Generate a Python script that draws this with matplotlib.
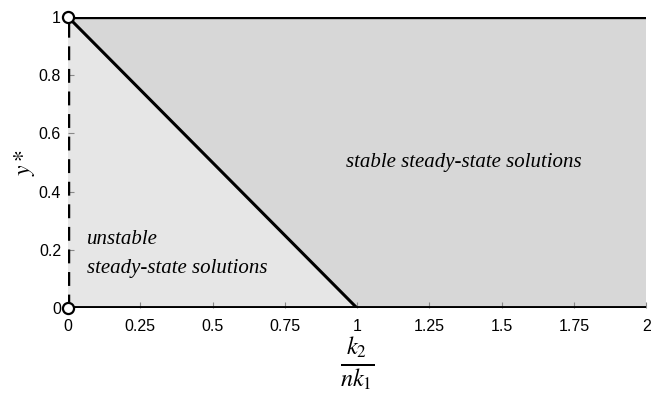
import matplotlib
matplotlib.use('Agg')
import matplotlib.pyplot as plt

plt.rcParams['font.family'] = 'Liberation Sans'
plt.rcParams['mathtext.fontset'] = 'stix'

# boundary between regions: y* = 1 - k2/(n k1)
bx = [0, 1]
by = [1, 0]
xmax = 2
xticks = [0, 0.25, 0.5, 0.75, 1, 1.25, 1.5, 1.75, 2]
xticklabels = ['0', '0.25', '0.5', '0.75', '1', '1.25', '1.5', '1.75', '2']
yticks = [0, 0.2, 0.4, 0.6, 0.8, 1]
yticklabels = ['0', '0.2', '0.4', '0.6', '0.8', '1']

fig = plt.figure(figsize=(6.54, 3.95), dpi=100)
ax = fig.add_axes([0.104, 0.22, 0.884, 0.737])

# shaded regions
ax.fill([0, 0, 1], [0, 1, 0], color='#e6e6e6', lw=0)
ax.fill([0, 1, xmax, xmax], [1, 0, 0, 1], color='#d7d7d7', lw=0)

# lines
ax.plot(bx, by, color='black', lw=2.2)
ax.plot([0, xmax], [1, 1], color='black', lw=2.4)
ax.plot([0, xmax], [0, 0], color='black', lw=2.8)
ax.plot([0, 0], [0, 1], color='black', lw=2.5, ls=(0, (4, 2.5)))
ax.plot([0, 0], [0, 1], 'o', ms=8, mfc='white', mec='black', mew=1.6, zorder=5, clip_on=False)

ax.text(1.37, 0.5, 'stable steady-state solutions', family='Liberation Serif',
        style='italic', fontsize=15, ha='center', va='center')
ax.text(0.065, 0.235, 'unstable', family='Liberation Serif', style='italic',
        fontsize=15, ha='left', va='center')
ax.text(0.065, 0.135, 'steady-state solutions', family='Liberation Serif', style='italic',
        fontsize=15, ha='left', va='center')

ax.set_xlim(0, xmax)
ax.set_ylim(0, 1)
ax.set_xticks(xticks)
ax.set_xticklabels(xticklabels)
ax.set_yticks(yticks)
ax.set_yticklabels(yticklabels)
ax.tick_params(direction='in', length=4, color='#888888', labelsize=11.5, pad=5)
ax.tick_params(axis='x', pad=8)
for s in ax.spines.values():
    s.set_visible(False)

ax.set_xlabel(r'$\frac{k_2}{nk_1}$', fontsize=25, labelpad=0)
ax.set_ylabel(r'$y*$', fontsize=17, labelpad=1)

fig.savefig('out.png', dpi=100)
